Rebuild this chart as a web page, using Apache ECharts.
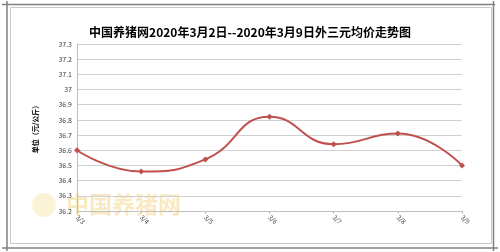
<!DOCTYPE html>
<html><head><meta charset="utf-8">
<script src="https://cdn.jsdelivr.net/npm/echarts@6/dist/echarts.min.js"></script>
<style>html,body{margin:0;padding:0;background:#fff}#c{width:500px;height:252px}</style>
</head><body><div id="c"></div>
<script>
var titleText = '中国养猪网2020年3月2日--2020年3月9日外三元均价走势图';
var yAxisName = '单位（元/公斤）';
var categories = ['3/3','3/4','3/5','3/6','3/7','3/8','3/9'];
var prices = [36.60, 36.46, 36.54, 36.82, 36.64, 36.71, 36.50];
var yMin = 36.2, yMax = 37.3, yStep = 0.1;

var chart = echarts.init(document.getElementById('c'), null, {renderer:'canvas'});
var FONT = '"Noto Sans CJK SC","Noto Sans",sans-serif';
chart.setOption({
  animation:false,
  backgroundColor:'#fff',
  title:{text:titleText,left:'center',top:21,textStyle:{fontSize:12,fontWeight:'bold',color:'#000',fontFamily:FONT}},
  grid:{left:77,right:38,top:44,bottom:41,containLabel:false},
  xAxis:{type:'category',data:categories,boundaryGap:false,
    axisLine:{show:true,lineStyle:{color:'#bfbfbf',width:1}},
    axisTick:{show:true,alignWithLabel:true,length:3,lineStyle:{color:'#bfbfbf'}},
    axisLabel:{rotate:-45,fontSize:6.5,color:'#404040',margin:5,fontFamily:FONT},
    splitLine:{show:false}},
  yAxis:{type:'value',min:yMin,max:yMax,interval:yStep,
    name:yAxisName,nameLocation:'middle',nameGap:38,nameRotate:90,
    nameTextStyle:{fontSize:7,fontWeight:'bold',color:'#000',fontFamily:FONT},
    axisLine:{show:true,lineStyle:{color:'#bfbfbf',width:1}},
    axisTick:{show:false},
    axisLabel:{fontSize:7,color:'#404040',margin:5,fontFamily:FONT,
      formatter:function(v){return String(Math.round(v*10)/10);}},
    splitLine:{show:true,lineStyle:{color:'#d0d0d0',width:1}}},
  series:[{type:'line',data:prices,smooth:0.5,
    lineStyle:{color:'#c0504d',width:2},
    itemStyle:{color:'#c0504d'},
    symbol:'diamond',symbolSize:6,showSymbol:true,z:5}],
  graphic:[
    {type:'circle',shape:{cx:44,cy:205,r:12},style:{fill:'rgba(240,215,120,0.3)'},z:-1,silent:true},
    {type:'text',left:66,top:193,style:{text:'中国养猪网',fontSize:23,fontWeight:'bold',fontFamily:FONT,fill:'rgba(240,200,100,0.4)'},z:-1,silent:true},
    {type:'rect',shape:{x:10.5,y:7.5,width:481,height:236},style:{fill:'none',stroke:'#c8c8c8',lineWidth:1},silent:true},
    {type:'line',shape:{x1:2,y1:4.5,x2:495,y2:4.5},style:{stroke:'#808080',lineWidth:1.5},silent:true},
    {type:'line',shape:{x1:7,y1:1,x2:7,y2:251},style:{stroke:'#808080',lineWidth:1.5},silent:true},
    {type:'line',shape:{x1:493.5,y1:1,x2:493.5,y2:251},style:{stroke:'#808080',lineWidth:1.5},silent:true},
    {type:'line',shape:{x1:2,y1:248,x2:498,y2:248},style:{stroke:'#808080',lineWidth:1.5},silent:true}
  ]
});
</script></body></html>
